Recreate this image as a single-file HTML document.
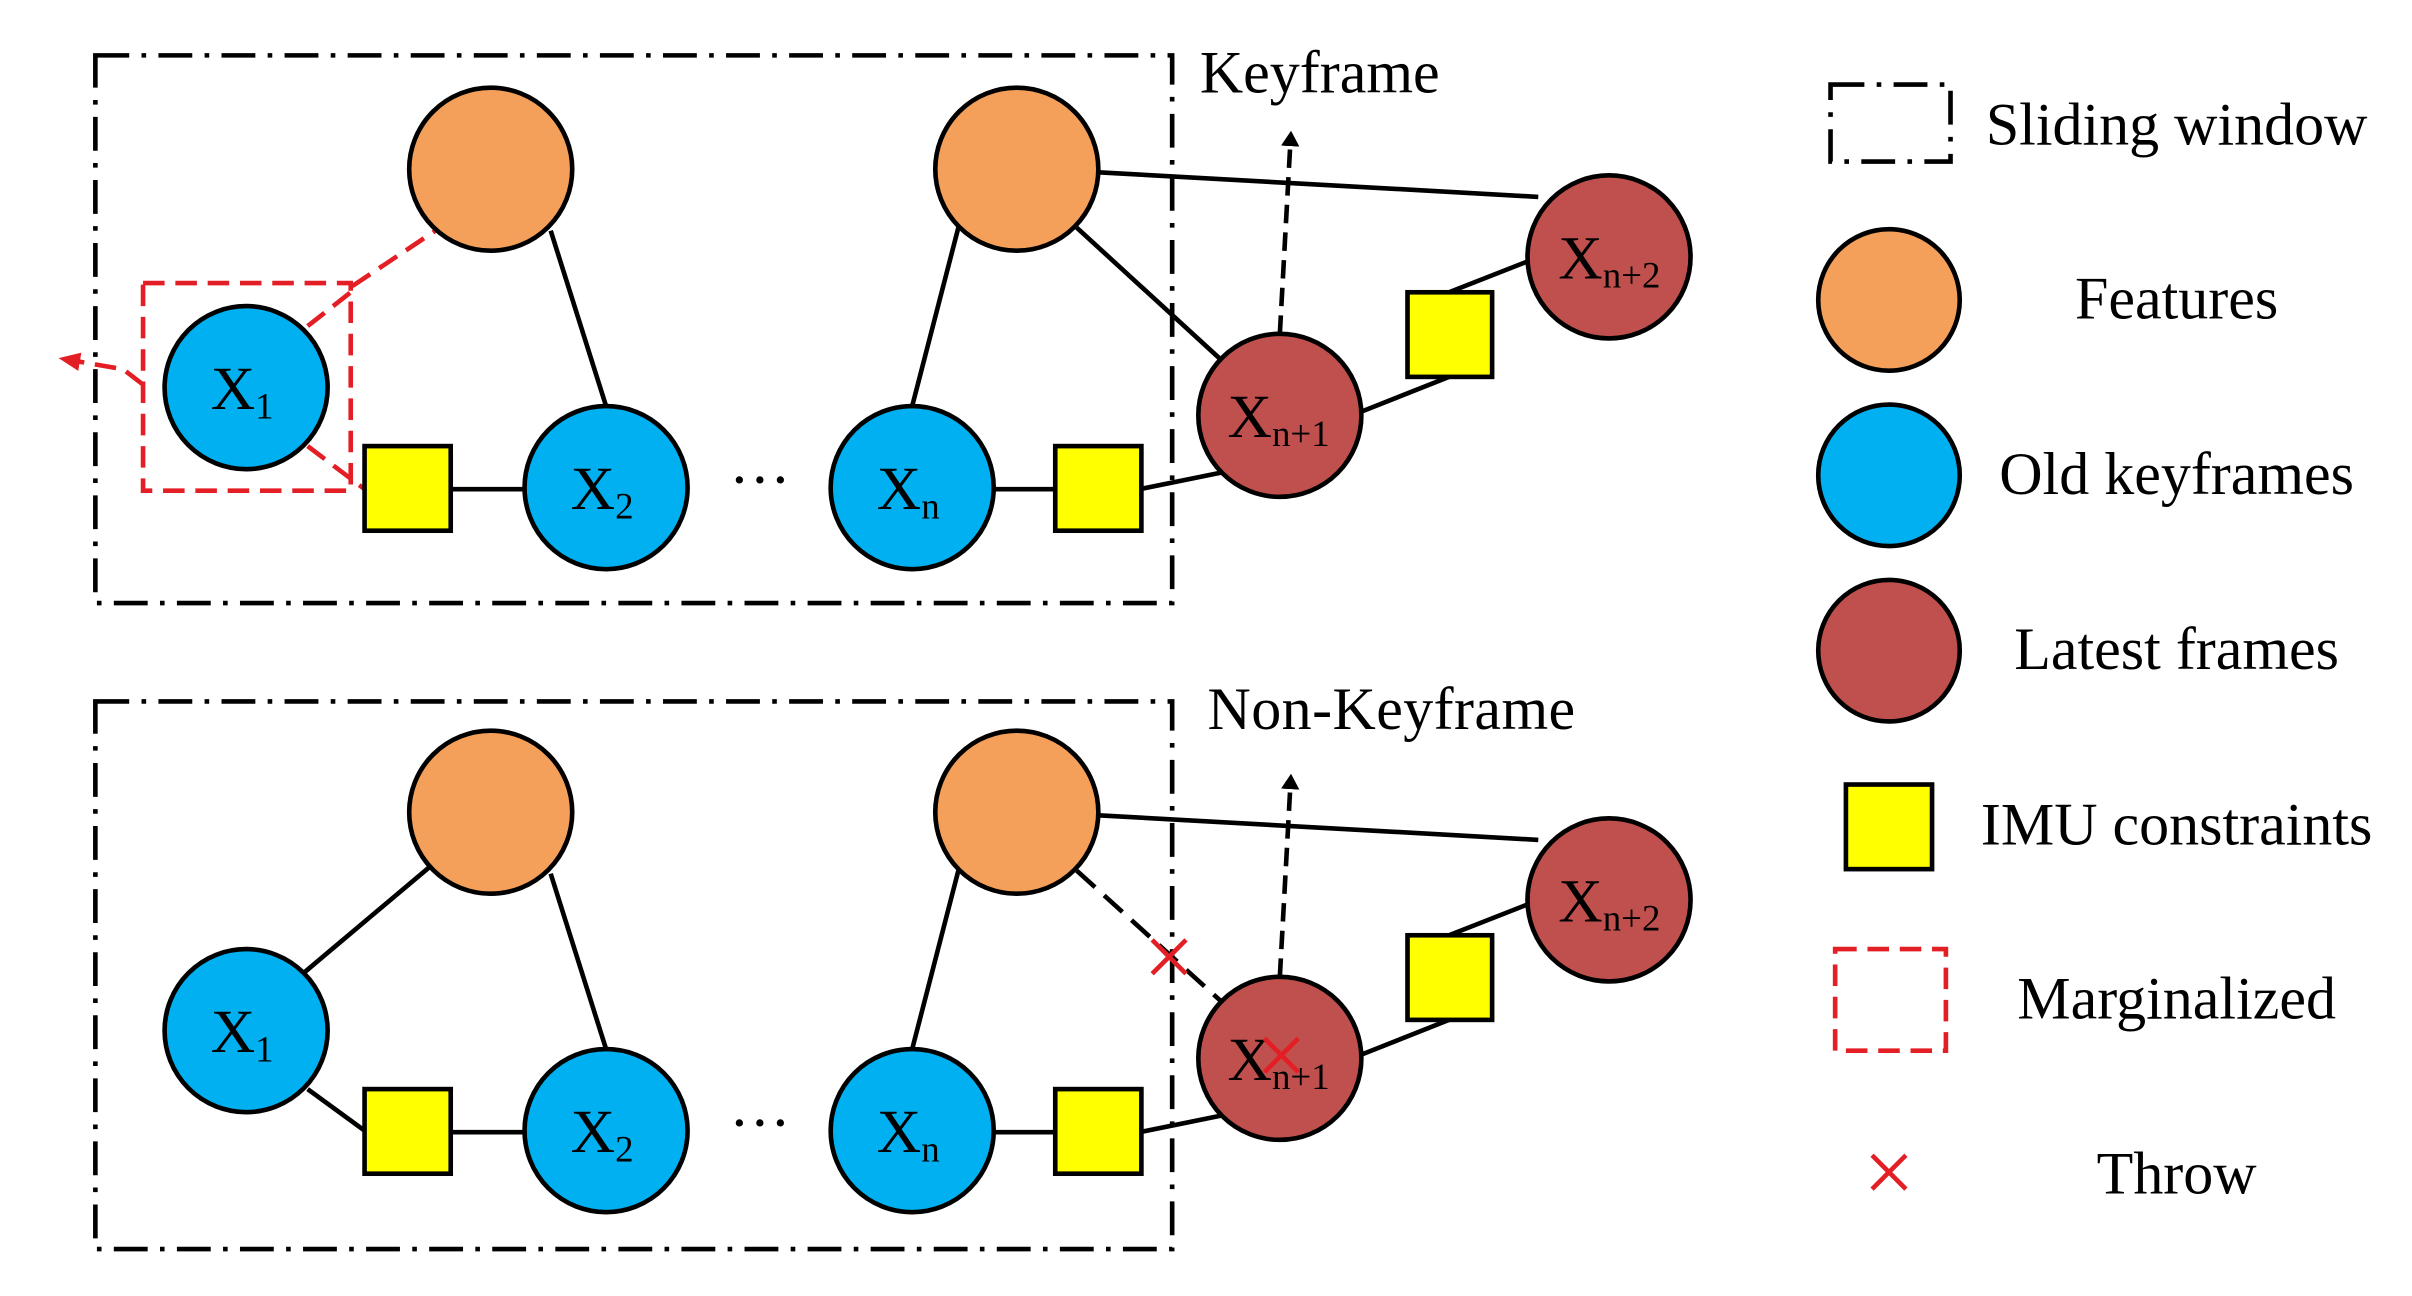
<!DOCTYPE html>
<html><head><meta charset="utf-8"><style>
html,body{margin:0;padding:0;background:#fff;}
svg{display:block;}
text{font-family:"Liberation Serif",serif;fill:#000;}
</style></head><body>
<svg width="2412" height="1296" viewBox="0 0 1568 842.5" preserveAspectRatio="none" xmlns="http://www.w3.org/2000/svg">
<defs>
<marker id="ab" markerWidth="10" markerHeight="12" refX="5" refY="6" orient="auto" markerUnits="userSpaceOnUse"><path d="M0,0 L10,6 L0,12 z" fill="#000"/></marker>
<marker id="ar" markerWidth="14" markerHeight="12" refX="7" refY="6" orient="auto" markerUnits="userSpaceOnUse"><path d="M0,0 L14,6 L0,12 z" fill="#e31e24"/></marker>
</defs>
<g stroke="#000" stroke-width="3" fill="none">
<rect x="62" y="36" width="700" height="356" stroke-dasharray="22,8,3,8"/>
<rect x="62" y="456" width="700" height="356" stroke-dasharray="22,8,3,8"/>
</g>
<g stroke="#000" stroke-width="3">
<line x1="358" y1="150" x2="394" y2="264"/>
<line x1="623" y1="148" x2="593" y2="264"/>
<line x1="714" y1="112" x2="1000" y2="128"/>
<line x1="700" y1="148" x2="795" y2="235"/>
<line x1="293" y1="318" x2="341" y2="318"/>
<line x1="646" y1="318" x2="686" y2="318"/>
<line x1="741" y1="318" x2="795" y2="307"/>
<line x1="884" y1="268" x2="942" y2="245"/>
<line x1="942" y1="190" x2="998" y2="168"/>
<line x1="832" y1="217" x2="839" y2="90" stroke-dasharray="12,6" marker-end="url(#ab)"/>
</g>
<g stroke="#000" stroke-width="3">
<line x1="358" y1="568" x2="394" y2="682"/>
<line x1="280" y1="563" x2="198" y2="632"/>
<line x1="200" y1="708" x2="237" y2="735"/>
<line x1="623" y1="566" x2="593" y2="682"/>
<line x1="714" y1="530" x2="1000" y2="546"/>
<line x1="700" y1="566" x2="795" y2="652" stroke-dasharray="16,8"/>
<line x1="293" y1="736" x2="341" y2="736"/>
<line x1="646" y1="736" x2="686" y2="736"/>
<line x1="741" y1="736" x2="795" y2="725"/>
<line x1="884" y1="686" x2="942" y2="663"/>
<line x1="942" y1="608" x2="998" y2="586"/>
<line x1="832" y1="635" x2="839" y2="508" stroke-dasharray="12,6" marker-end="url(#ab)"/>
</g>
<g stroke="#e31e24" stroke-width="3" fill="none" stroke-dasharray="14,7">
<rect x="93" y="184" width="135" height="135"/>
<line x1="229" y1="186" x2="283" y2="150"/>
<line x1="200" y1="212" x2="228" y2="190"/>
<line x1="200" y1="290" x2="237" y2="318"/>
<path d="M93,250 L80,240 L45,234" marker-end="url(#ar)"/>
</g>
<g stroke="#000" stroke-width="3">
<circle cx="319" cy="110" r="53" fill="#f4a05a"/>
<circle cx="661" cy="110" r="53" fill="#f4a05a"/>
<circle cx="160" cy="252" r="53" fill="#00b0f0"/>
<circle cx="394" cy="317" r="53" fill="#00b0f0"/>
<circle cx="593" cy="317" r="53" fill="#00b0f0"/>
<circle cx="832" cy="270" r="53" fill="#c0504d"/>
<circle cx="1046" cy="167" r="53" fill="#c0504d"/>
<rect x="237" y="290" width="56" height="55" fill="#ffff00"/>
<rect x="686" y="290" width="56" height="55" fill="#ffff00"/>
<rect x="915" y="190" width="55" height="55" fill="#ffff00"/>
<circle cx="319" cy="528" r="53" fill="#f4a05a"/>
<circle cx="661" cy="528" r="53" fill="#f4a05a"/>
<circle cx="160" cy="670" r="53" fill="#00b0f0"/>
<circle cx="394" cy="735" r="53" fill="#00b0f0"/>
<circle cx="593" cy="735" r="53" fill="#00b0f0"/>
<circle cx="832" cy="688" r="53" fill="#c0504d"/>
<circle cx="1046" cy="585" r="53" fill="#c0504d"/>
<rect x="237" y="708" width="56" height="55" fill="#ffff00"/>
<rect x="686" y="708" width="56" height="55" fill="#ffff00"/>
<rect x="915" y="608" width="55" height="55" fill="#ffff00"/>
</g>
<g font-size="40">
<text x="137" y="266">X<tspan font-size="24" dy="6">1</tspan></text>
<text x="371" y="331">X<tspan font-size="24" dy="6">2</tspan></text>
<text x="570" y="331">X<tspan font-size="24" dy="6">n</tspan></text>
<text x="798" y="284">X<tspan font-size="24" dy="6">n+1</tspan></text>
<text x="1013" y="181">X<tspan font-size="24" dy="6">n+2</tspan></text>
<text x="137" y="684">X<tspan font-size="24" dy="6">1</tspan></text>
<text x="371" y="749">X<tspan font-size="24" dy="6">2</tspan></text>
<text x="570" y="749">X<tspan font-size="24" dy="6">n</tspan></text>
<text x="798" y="702">X<tspan font-size="24" dy="6">n+1</tspan></text>
<text x="1013" y="599">X<tspan font-size="24" dy="6">n+2</tspan></text>
<text x="474" y="325">···</text>
<text x="474" y="743">···</text>
</g>
<g font-size="39">
<text x="780" y="60">Keyframe</text>
<text x="785" y="474" textLength="239">Non-Keyframe</text>
</g>
<g stroke="#e31e24" stroke-width="3">
<line x1="749" y1="611" x2="771" y2="633"/><line x1="771" y1="611" x2="749" y2="633"/>
<line x1="822" y1="675" x2="844" y2="697"/><line x1="844" y1="675" x2="822" y2="697"/>
<line x1="1217" y1="751" x2="1239" y2="773"/><line x1="1239" y1="751" x2="1217" y2="773"/>
</g>
<rect x="1190" y="55" width="78" height="50" fill="none" stroke="#000" stroke-width="3" stroke-dasharray="22,8,3,8"/>
<g stroke="#000" stroke-width="3">
<circle cx="1228" cy="195" r="46" fill="#f4a05a"/>
<circle cx="1228" cy="309" r="46" fill="#00b0f0"/>
<circle cx="1228" cy="423" r="46" fill="#c0504d"/>
<rect x="1200" y="510" width="56" height="55" fill="#ffff00"/>
</g>
<rect x="1193" y="617" width="72" height="66" fill="none" stroke="#e31e24" stroke-width="3" stroke-dasharray="14,7"/>
<g font-size="39" text-anchor="middle">
<text x="1415" y="94">Sliding window</text>
<text x="1415" y="207">Features</text>
<text x="1415" y="321">Old keyframes</text>
<text x="1415" y="435">Latest frames</text>
<text x="1415" y="549">IMU constraints</text>
<text x="1415" y="662">Marginalized</text>
<text x="1415" y="776">Throw</text>
</g>
</svg>
</body></html>
